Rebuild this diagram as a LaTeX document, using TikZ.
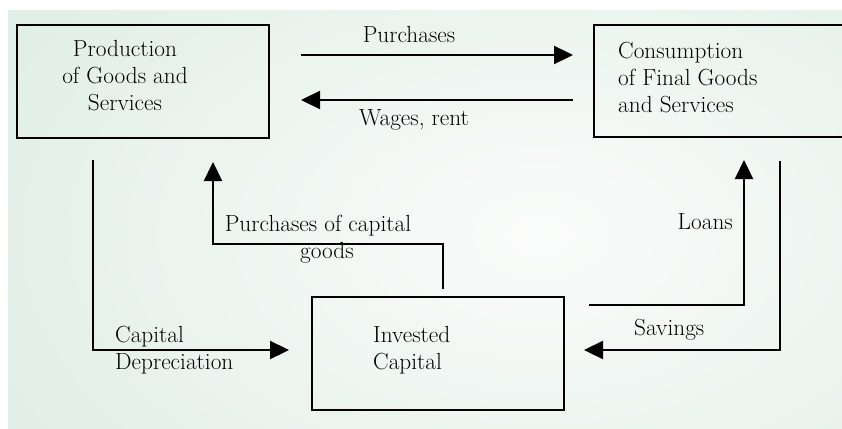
\documentclass[tikz,border=0pt]{standalone}
\usetikzlibrary{arrows.meta}
\definecolor{mint}{RGB}{213,232,223}
\definecolor{haze}{RGB}{251,252,251}
\begin{document}
\begin{tikzpicture}[x=1pt,y=-1pt,
  lbl/.style={inner sep=0pt, font=\fontsize{23.3}{27}\selectfont},
  flow/.style={line width=2.3pt},
  tip/.style={-{Triangle[length=19pt,width=18pt]}},
  box/.style={draw, line width=2.5pt, rectangle, inner sep=0pt}]
\useasboundingbox (0,0) rectangle (842,428);
% soft backdrop
\begin{scope}
  \clip (8,11) rectangle (842,428);
  \fill[mint] (8,11) rectangle (842,428);
  \shade[inner color=haze, outer color=mint] (540,235) ellipse (900 and 560);
\end{scope}
% sectors
\node[box, minimum width=252, minimum height=113] (prod) at (143,81.5) {};
\node[box, minimum width=266, minimum height=112] (cons) at (727,81) {};
\node[box, minimum width=252, minimum height=113] (inv) at (438,353.5) {};
% multi-line texts are placed by the baseline of their last line
\node[lbl, align=center, anchor=base] (prodtxt) at (125,110) {Production\\of Goods and\\Services};
\node[lbl, align=left, anchor=base west] (constxt) at (618,112) {Consumption\\of Final Goods\\and Services};
\node[lbl, align=left, anchor=base west] (invtxt) at (373,369) {Invested\\Capital};
% flow labels
\node[lbl, anchor=base] (purch) at (409,42) {Purchases};
\node[lbl, anchor=base] (wages) at (414,125) {Wages, rent};
\node[lbl, align=center, anchor=base] (pcg) at (318,258) {Purchases of capital\\\hspace*{18pt}goods};
\node[lbl, anchor=base east] (loans) at (733,229) {Loans};
\node[lbl, anchor=base west] (sav) at (634,335) {Savings};
\node[lbl, align=left, anchor=base west] (dep) at (115,369) {Capital\\Depreciation};
% connector end points
\coordinate (buyS) at (301,55);  \coordinate (buyE) at (573,55);
\coordinate (wageS) at (573,100); \coordinate (wageE) at (301,100);
\coordinate (depS) at (93,160);  \coordinate (depE) at (289,350);
\coordinate (capS) at (443,289); \coordinate (capE) at (213,162);
\coordinate (loanS) at (589,305); \coordinate (loanE) at (744,160);
\coordinate (savS) at (780,161); \coordinate (savE) at (584,350);
% flows
\draw[flow,tip] (buyS) -- (buyE);
\draw[flow,tip] (wageS) -- (wageE);
\draw[flow,tip] (depS) |- (depE);
\draw[flow,tip] (capS) -- (capS |- 0,244) -| (capE);
\draw[flow,tip] (loanS) -| (loanE);
\draw[flow,tip] (savS) |- (savE);
\end{tikzpicture}
\end{document}
